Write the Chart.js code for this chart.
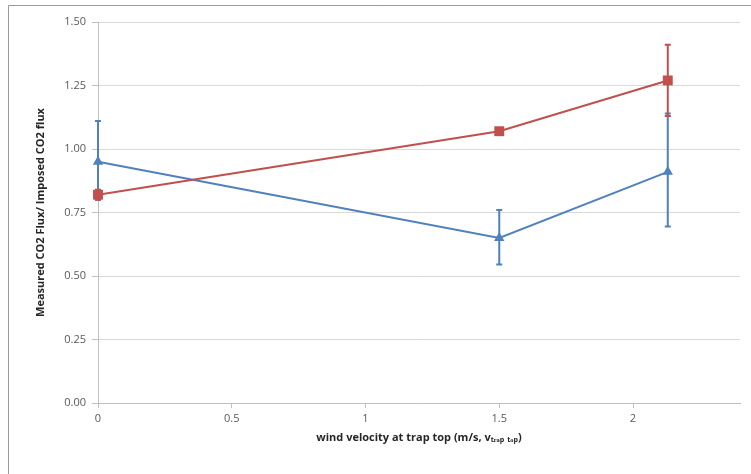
<!DOCTYPE html>
<html>
<head>
<meta charset="utf-8">
<script src="https://cdn.jsdelivr.net/npm/chart.js@4/dist/chart.umd.min.js"></script>
<style>
  html, body { margin: 0; padding: 0; background: #fff; }
  #wrap { width: 751px; height: 474px; position: relative; }
</style>
</head>
<body>
<div id="wrap"><canvas id="fluxChart" width="751" height="474"></canvas></div>
<script>
// wind velocity at trap top (m/s)
const windSpeed = [0, 1.5, 2.13];

// red series (squares)
const redFlux   = [0.82, 1.07, 1.27];
const redErrUp  = [0.02, 0.01, 0.14];
const redErrDn  = [0.02, 0.01, 0.14];

// blue series (triangles)
const blueFlux  = [0.95, 0.65, 0.91];
const blueErrUp = [0.16, 0.11, 0.23];
const blueErrDn = [0.15, 0.105, 0.215];

const yTicks = [0, 0.25, 0.5, 0.75, 1.0, 1.25, 1.5];
const xTicks = [0, 0.5, 1, 1.5, 2];

const BLUE = '#4f81bd';
const RED  = '#c0504d';

const toPts = (ys) => windSpeed.map((x, i) => ({ x, y: ys[i] }));

/* ── error bars, drawn through the chart scales ───── */
const errorBars = {
    id: 'errorBars',
    beforeDatasetsDraw(chart) {
        const { ctx, scales: { x, y } } = chart;
        // draw later datasets first so dataset 0 ends on top
        for (let d = chart.data.datasets.length - 1; d >= 0; d--) {
            const ds = chart.data.datasets[d];
            if (!ds.errUp) continue;
            ctx.save();
            ctx.strokeStyle = ds.borderColor;
            ctx.lineWidth = 2;
            ds.data.forEach((p, i) => {
                const px = x.getPixelForValue(p.x);
                const top = y.getPixelForValue(p.y + ds.errUp[i]);
                const bot = y.getPixelForValue(p.y - ds.errDn[i]);
                ctx.beginPath();
                ctx.moveTo(px, top); ctx.lineTo(px, bot);
                ctx.moveTo(px - 3, top); ctx.lineTo(px + 3, top);
                ctx.moveTo(px - 3, bot); ctx.lineTo(px + 3, bot);
                ctx.stroke();
            });
            ctx.restore();
        }
    }
};

/* ── outer chart frame (left / top edges) ─────────── */
const frame = {
    id: 'frame',
    beforeDraw(chart) {
        const ctx = chart.ctx;
        ctx.save();
        ctx.strokeStyle = '#9a9a9a';
        ctx.lineWidth = 1;
        ctx.beginPath();
        ctx.moveTo(8.5, 474); ctx.lineTo(8.5, 5.5); ctx.lineTo(751, 5.5);
        ctx.stroke();
        ctx.restore();
    }
};

new Chart(document.getElementById('fluxChart'), {
    type: 'line',
    data: {
        datasets: [
            {
                label: 'red',
                data: toPts(redFlux),
                errUp: redErrUp, errDn: redErrDn,
                borderColor: RED, backgroundColor: RED,
                borderWidth: 2,
                pointStyle: 'rect', pointRadius: 7, pointBorderWidth: 0,
                tension: 0, clip: false
            },
            {
                label: 'blue',
                data: toPts(blueFlux),
                errUp: blueErrUp, errDn: blueErrDn,
                borderColor: BLUE, backgroundColor: BLUE,
                borderWidth: 2,
                pointStyle: 'triangle', pointRadius: 6, pointBorderWidth: 0,
                tension: 0, clip: false
            }
        ]
    },
    options: {
        responsive: false,
        animation: false,
        layout: { padding: { left: 30, top: 22, right: 11, bottom: 26 } },
        plugins: { legend: { display: false }, tooltip: { enabled: false } },
        scales: {
            x: {
                type: 'linear',
                min: 0, max: 2.4,
                afterBuildTicks: s => { s.ticks = xTicks.map(v => ({ value: v })); },
                afterFit: s => { s.height = 45; },
                grid: { drawOnChartArea: false, drawTicks: true, tickLength: 5, color: '#bfbfbf' },
                border: { color: '#bfbfbf' },
                ticks: {
                    color: '#595959', font: { family: 'Open Sans', size: 11 }, padding: 4,
                    callback: v => String(v)
                },
                title: {
                    display: true,
                    text: 'wind velocity at trap top (m/s, vₜᵣₐₚ ₜₒₚ)',
                    color: '#262626',
                    font: { family: 'Open Sans', size: 11, weight: 'bold' },
                    padding: { top: 4 }
                }
            },
            y: {
                min: 0, max: 1.5,
                afterBuildTicks: s => { s.ticks = yTicks.map(v => ({ value: v })); },
                afterFit: s => { s.width = 68; },
                grid: { color: '#d9d9d9', tickLength: 6, tickColor: '#bfbfbf' },
                border: { color: '#bfbfbf' },
                ticks: {
                    color: '#595959', font: { family: 'Open Sans', size: 11 }, padding: 6,
                    callback: v => v.toFixed(2)
                },
                title: {
                    display: true,
                    text: 'Measured CO2 Flux/ Imposed CO2 flux',
                    color: '#262626',
                    font: { family: 'Open Sans', size: 11, weight: 'bold' },
                    padding: { bottom: 4 }
                }
            }
        }
    },
    plugins: [frame, errorBars]
});
</script>
</body>
</html>
